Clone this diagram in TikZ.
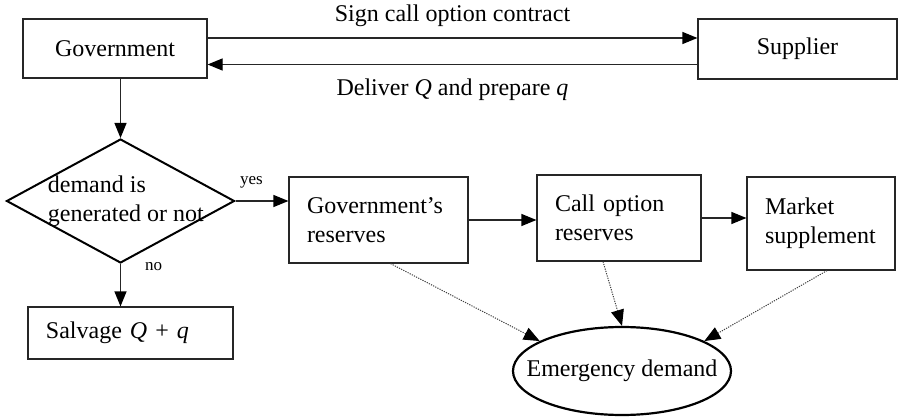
\documentclass[tikz,border=0pt,12pt]{standalone}
\usepackage{fontspec}
\setmainfont{Liberation Serif}
\usetikzlibrary{arrows.meta,shapes.geometric}
\tikzset{
	box/.style={draw=black!85, line width=0.6pt, rectangle, inner xsep=9pt, align=left},
	decision/.style={draw, line width=1pt, diamond, minimum width=114pt, minimum height=62pt, inner sep=0pt},
	goal/.style={draw, line width=1.1pt, ellipse, minimum width=109pt, minimum height=44pt, inner sep=0pt},
	flow/.style={draw=black!85, line width=0.6pt, -{Triangle[length=7.5pt,width=6pt,color=black]}},
	hint/.style={draw=black!75, line width=0.5pt, dash pattern=on 0.6pt off 0.6pt, -{Triangle[length=8pt,width=6.5pt,color=black]}},
	tag/.style={font=\fontsize{8.5}{10}\selectfont}
}

\begin{document}
\begin{tikzpicture}[x=0.5pt, y=-0.5pt]
			%%%%% START %%%%%
			\useasboundingbox (0, 0) rectangle (905, 417);
			
			\node[box, align=center, text width=74pt, minimum height=29.5pt] (gov) at (115, 48.5) {Government};
			\node[box, align=center, text width=81.5pt, minimum height=30pt] (sup) at (797.5, 49) {Supplier};
			
			\draw[flow] ([yshift=5.25pt]gov.east) -- ([yshift=5.25pt]gov.east -| sup.west)
				node[midway, above, yshift=1.5pt] {Sign call option contract};
			\draw[flow] ([yshift=-7.75pt]sup.west) -- ([yshift=-7.75pt]sup.west -| gov.east)
				node[midway, below, yshift=-3pt] {Deliver \textit{Q} and prepare \textit{q}};
			
			\node[decision] (dec) at (120.5, 201) {};
			\node[align=left, anchor=west, inner sep=0pt] (decq) at ([xshift=21pt]dec.west) {demand is\\generated or not};
			\draw[flow] (gov.south -| dec.north) -- (dec.north);
			
			\node[box, text width=71.5pt, minimum height=43pt] (res) at (378.5, 220) {Government's\\reserves};
			\node[box, text width=64pt, minimum height=43pt] (call) at (619, 218) {Call option\\reserves};
			\node[box, text width=56pt, minimum height=46.5pt] (mkt) at (821, 223.5) {Market\\supplement};
			\node[box, text width=84.5pt, minimum height=26pt] (salv) at (130.5, 333) {Salvage \textit{Q} + \textit{q}};
			
			\draw[flow] (dec.east) -- (dec.east -| res.west) node[tag, pos=0.3, above, yshift=2pt] {yes};
			\draw[flow] (dec.south) -- (dec.south |- salv.north) node[tag, pos=0.05, right, xshift=8pt] {no};
			\draw[flow] (res.east) -- (res.east -| call.west);
			\draw[flow] (call.east) -- (call.east -| mkt.west);
			
			\node[goal] (em) at (622, 371) {\makebox[0pt]{Emergency demand}};
			
			\draw[hint] ([xshift=6pt]res.south) -- (em.160);
			\draw[hint] ([xshift=-8pt]call.south) -- (em.north);
			\draw[hint] ([xshift=3pt]mkt.south) -- (em.20);
			
			%%%%% END %%%%%
\end{tikzpicture}
\end{document}
